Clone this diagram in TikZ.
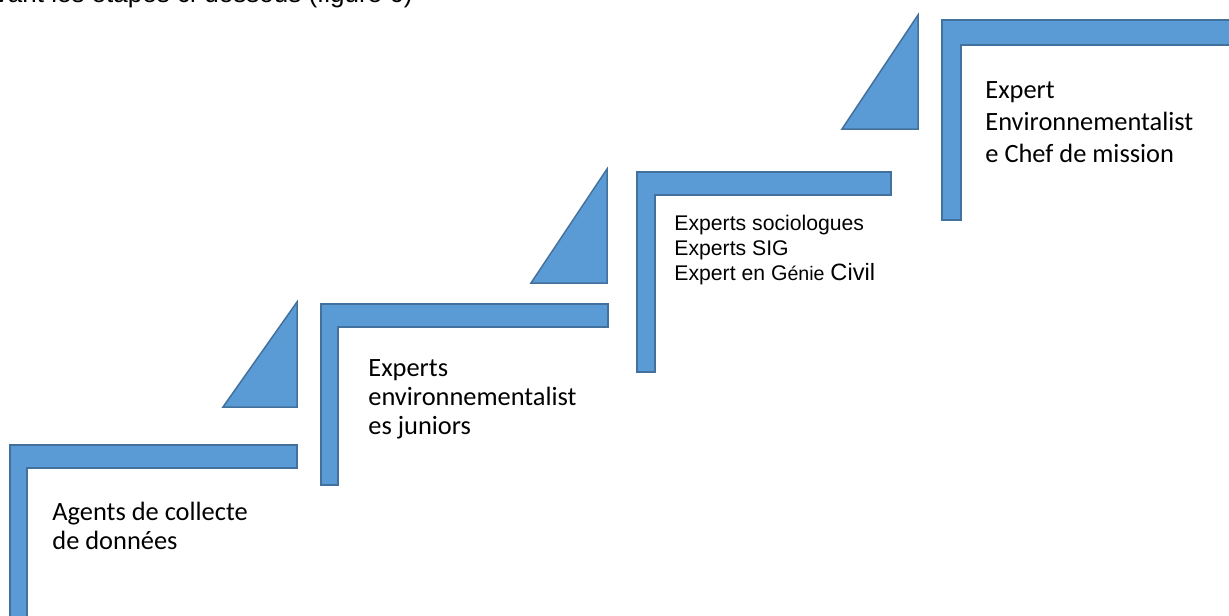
\documentclass[tikz,border=0pt]{standalone}
\usepackage{fontspec}
\newfontfamily\calfont{Carlito}
\newfontfamily\arifont{Liberation Sans}
\definecolor{stepfill}{HTML}{5B9BD5}
\definecolor{stepline}{HTML}{41719C}
\tikzset{
  stepshape/.style={fill=stepfill, draw=stepline, line width=0.75pt, line join=miter},
  callabel/.style={anchor=base west, inner sep=0pt, align=left, font=\calfont\fontsize{13.2}{14.2}\selectfont},
  arilabel/.style={anchor=base west, inner sep=0pt, align=left, font=\arifont\fontsize{10.6}{12.3}\selectfont},
}
\begin{document}
\begin{tikzpicture}[x=0.5pt,y=-0.5pt]
\useasboundingbox (0,0) rectangle (1229,615);
\clip (0,0) rectangle (1229,615);
\fill[white] (0,0) rectangle (1229,615);
% cut-off line of text above the figure
\node[anchor=base east, inner sep=0pt, font=\arifont\fontsize{13}{15}\selectfont] (caption) at (413,3) {suivant les étapes ci-dessous (figure 6)};
% step 1
\draw[stepshape] (10,640) -- (10,445) -- (297,445) -- (297,468) -- (27,468) -- (27,640) -- cycle;
% step 2
\draw[stepshape] (321,485) -- (321,304) -- (608,304) -- (608,327) -- (338,327) -- (338,485) -- cycle;
% step 3
\draw[stepshape] (637,372) -- (637,172) -- (891,172) -- (891,195) -- (655,195) -- (655,372) -- cycle;
% step 4
\draw[stepshape] (942,220) -- (942,20) -- (1240,20) -- (1240,45) -- (961,45) -- (961,220) -- cycle;
% triangles
\draw[stepshape] (297,302) -- (223,407) -- (297,407) -- cycle;
\draw[stepshape] (607,169) -- (531,283) -- (607,283) -- cycle;
\draw[stepshape] (918,15) -- (842,129) -- (918,129) -- cycle;
% labels (anchor base = baseline of last line)
\node[callabel] (l1) at (52,549) {Agents de collecte\\de données};
\node[callabel, font=\calfont\fontsize{13.2}{14.4}\selectfont] (l2) at (368,434) {Experts\\environnementalist\\es juniors};
\node[arilabel] (l3) at (674,280) {Experts sociologues\\Experts SIG\\Expert en G{\fontsize{9.8}{12}\selectfont énie} {\fontsize{11.8}{12}\selectfont Civil}};
\node[callabel, font=\calfont\fontsize{13.2}{16}\selectfont] (l4) at (985,162) {Expert\\Environnementalist\\e Chef de mission};
\end{tikzpicture}
\end{document}
